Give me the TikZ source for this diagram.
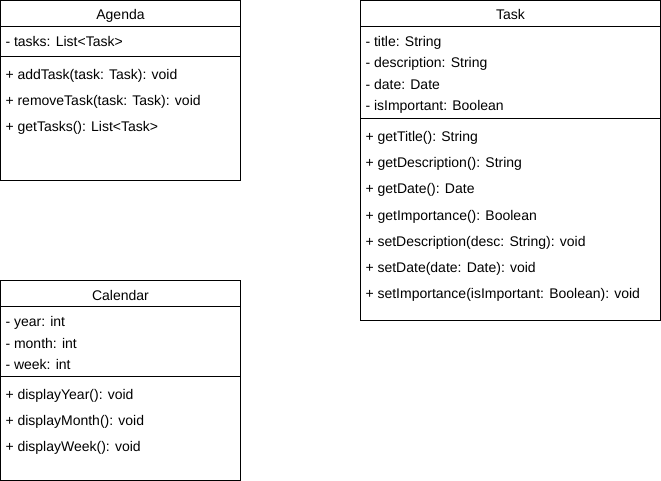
\documentclass[tikz,border=0pt]{standalone}
\usepackage{fontspec}
\setmainfont{Liberation Sans}
\begin{document}
\begin{tikzpicture}[x=1pt, y=-1pt, line width=1pt,
    member/.style={anchor=base west, inner sep=0pt, font=\fontsize{14}{16}\selectfont},
    title/.style={anchor=base, inner sep=0pt, font=\fontsize{14}{16}\selectfont}]
  \useasboundingbox (0,0) rectangle (661,481);
  \begin{scope}
    \draw (0.5,0.5) rectangle (240.5,180.5);
    \draw (0.5,26.5) -- (240.5,26.5) (0.5,56.5) -- (240.5,56.5);
    \node[title] (agenda) at (120.5,20) {Agenda};
    \node[member] (agTasks) at (5,46.5) {- tasks: List<Task>};
    \node[member] (agAdd) at (5,79.5) {+ addTask(task: Task): void};
    \node[member] (agRemove) at (5,105.5) {+ removeTask(task: Task): void};
    \node[member] (agGet) at (5,131.5) {+ getTasks(): List<Task>};
  \end{scope}
  \begin{scope}[shift={(360,0)}]
    \draw (0.5,0.5) rectangle (300.5,320.5);
    \draw (0.5,26.5) -- (300.5,26.5) (0.5,118.5) -- (300.5,118.5);
    \node[title] (task) at (150.5,20) {Task};
    \node[member] (tkTitle) at (5,46.5) {- title: String};
    \node[member] (tkDesc) at (5,68) {- description: String};
    \node[member] (tkDate) at (5,89.5) {- date: Date};
    \node[member] (tkImp) at (5,111) {- isImportant: Boolean};
    \node[member] (tkGetTitle) at (5,142) {+ getTitle(): String};
    \node[member] (tkGetDesc) at (5,168) {+ getDescription(): String};
    \node[member] (tkGetDate) at (5,194) {+ getDate(): Date};
    \node[member] (tkGetImp) at (5,220) {+ getImportance(): Boolean};
    \node[member] (tkSetDesc) at (5,246) {+ setDescription(desc: String): void};
    \node[member] (tkSetDate) at (5,272) {+ setDate(date: Date): void};
    \node[member] (tkSetImp) at (5,298) {+ setImportance(isImportant: Boolean): void};
  \end{scope}
  \begin{scope}[shift={(0,280)}]
    \draw (0.5,0.5) rectangle (240.5,200.5);
    \draw (0.5,26.5) -- (240.5,26.5) (0.5,96.5) -- (240.5,96.5);
    \node[title] (calendar) at (120.5,20) {Calendar};
    \node[member] (clYear) at (5,46.5) {- year: int};
    \node[member] (clMonth) at (5,68) {- month: int};
    \node[member] (clWeek) at (5,89.5) {- week: int};
    \node[member] (clDispYear) at (5,119) {+ displayYear(): void};
    \node[member] (clDispMonth) at (5,145) {+ displayMonth(): void};
    \node[member] (clDispWeek) at (5,171) {+ displayWeek(): void};
  \end{scope}
\end{tikzpicture}
\end{document}
